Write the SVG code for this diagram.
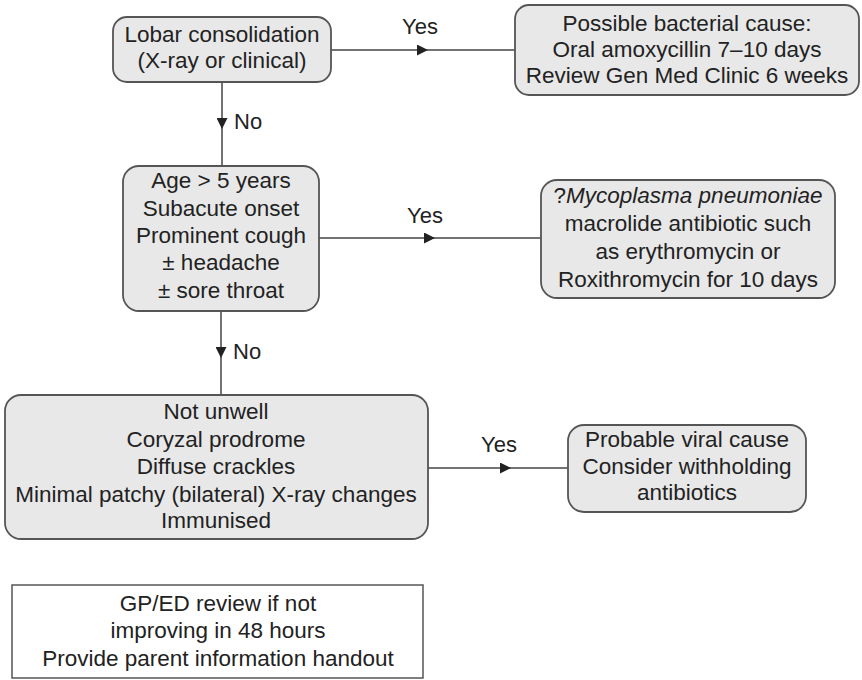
<svg xmlns="http://www.w3.org/2000/svg" width="862" height="680" viewBox="0 0 862 680">
<style>
.box{fill:#e8e8e8;stroke:#555;stroke-width:1.8}
.plain{fill:#fff;stroke:#555;stroke-width:1.5}
.t{font-family:"Liberation Sans",Arial,sans-serif;font-size:22.5px;fill:#222;text-anchor:middle}
.lbl{font-family:"Liberation Sans",Arial,sans-serif;font-size:22px;fill:#222}
.c{fill:none;stroke:#444;stroke-width:1.5;marker-mid:url(#arr)}
</style>
<defs>
<marker id="arr" viewBox="0 0 10 10" refX="10" refY="5" markerWidth="12" markerHeight="11" markerUnits="userSpaceOnUse" orient="auto">
<path d="M0,0 L10,5 L0,10 z" fill="#222"/>
</marker>
</defs>
<rect width="862" height="680" fill="#fff"/>
<g id="connectors">
<path class="c" d="M331,50 L428,50 L515,50"/>
<path class="c" d="M222,82 L222,129 L222,166"/>
<path class="c" d="M319,238 L435,238 L541,238"/>
<path class="c" d="M221,311 L221,358 L221,395"/>
<path class="c" d="M428,468 L511,468 L568,468"/>
<text class="lbl" x="420" y="34" text-anchor="middle">Yes</text>
<text class="lbl" x="234" y="129">No</text>
<text class="lbl" x="425" y="223" text-anchor="middle">Yes</text>
<text class="lbl" x="233" y="359">No</text>
<text class="lbl" x="499" y="452" text-anchor="middle">Yes</text>
</g>
<g id="n1">
<rect class="box" x="113" y="17" width="218" height="65" rx="14"/>
<text class="t" x="222" y="42">Lobar consolidation</text>
<text class="t" x="222" y="68">(X-ray or clinical)</text>
</g>
<g id="n2">
<rect class="box" x="515" y="5" width="344" height="90" rx="14"/>
<text class="t" x="687" y="31">Possible bacterial cause:</text>
<text class="t" x="687" y="57">Oral amoxycillin 7–10 days</text>
<text class="t" x="687" y="83">Review Gen Med Clinic 6 weeks</text>
</g>
<g id="n3">
<rect class="box" x="123" y="166" width="196" height="145" rx="16"/>
<text class="t" x="221" y="188">Age &gt; 5 years</text>
<text class="t" x="221" y="216">Subacute onset</text>
<text class="t" x="221" y="243">Prominent cough</text>
<text class="t" x="221" y="270">± headache</text>
<text class="t" x="221" y="298">± sore throat</text>
</g>
<g id="n4">
<rect class="box" x="541" y="180" width="294" height="118" rx="16"/>
<text class="t" x="688" y="203">?<tspan font-style="italic">Mycoplasma pneumoniae</tspan></text>
<text class="t" x="688" y="231">macrolide antibiotic such</text>
<text class="t" x="688" y="259">as erythromycin or</text>
<text class="t" x="688" y="287">Roxithromycin for 10 days</text>
</g>
<g id="n5">
<rect class="box" x="5" y="395" width="423" height="144" rx="16"/>
<text class="t" x="216" y="419">Not unwell</text>
<text class="t" x="216" y="447">Coryzal prodrome</text>
<text class="t" x="216" y="474">Diffuse crackles</text>
<text class="t" x="216" y="502">Minimal patchy (bilateral) X-ray changes</text>
<text class="t" x="216" y="528">Immunised</text>
</g>
<g id="n6">
<rect class="box" x="568" y="425" width="238" height="87" rx="16"/>
<text class="t" x="687" y="447">Probable viral cause</text>
<text class="t" x="687" y="474">Consider withholding</text>
<text class="t" x="687" y="500">antibiotics</text>
</g>
<g id="n7">
<rect class="plain" x="12" y="585" width="411" height="93"/>
<text class="t" x="218" y="611">GP/ED review if not</text>
<text class="t" x="218" y="638">improving in 48 hours</text>
<text class="t" x="218" y="666">Provide parent information handout</text>
</g>
</svg>
